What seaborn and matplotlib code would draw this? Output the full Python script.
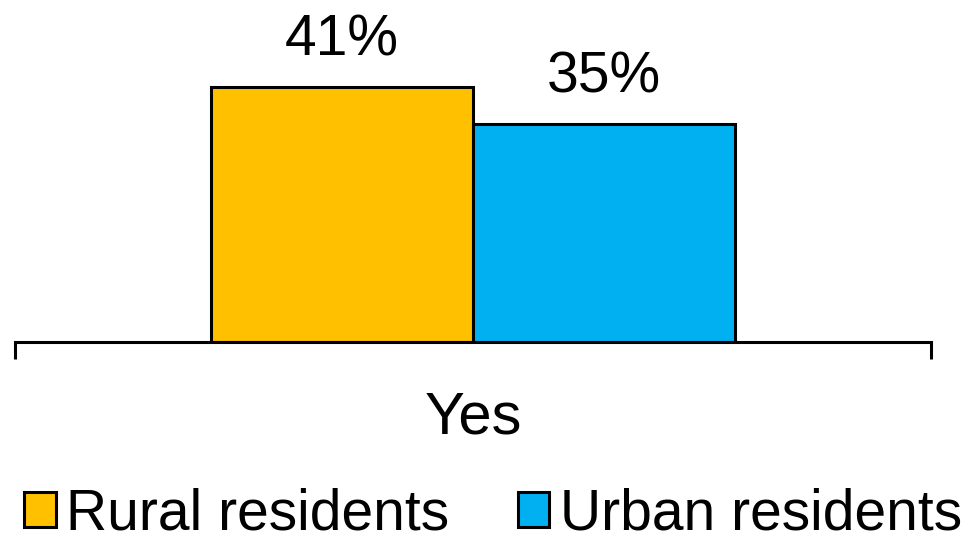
import matplotlib
matplotlib.use("Agg")
import matplotlib.pyplot as plt
import seaborn as sns
import pandas as pd

categories = ["Yes"]
groups = ["Rural residents", "Urban residents"]
values = [41, 35]
colors = ["#FFC000", "#00B0F0"]

df = pd.DataFrame({"answer": categories * len(groups), "group": groups, "share": values})

sns.set_theme(style="white")
plt.rcParams["font.family"] = ["Liberation Sans", "DejaVu Sans"]
plt.rcParams["text.color"] = "black"

fig = plt.figure(figsize=(9.74, 5.44), dpi=100)
ax = fig.add_axes([15 / 974, 1 - 342 / 544, 916 / 974, 342 / 544])

sns.barplot(data=df, x="answer", y="share", hue="group", palette=colors,
            width=0.572, edgecolor="black", linewidth=2.2, saturation=1,
            ax=ax, legend=True)

for c in ax.containers:
    ax.bar_label(c, fmt="{:.0f}%", padding=14, fontsize=41, color="black")

ax.set_ylim(0, 55)
ax.set_xlim(-0.5, 0.5)
ax.set_xlabel("")
ax.set_ylabel("")
ax.set_yticks([])
for s in ["top", "right", "left"]:
    ax.spines[s].set_visible(False)
ax.spines["bottom"].set_linewidth(2.2)
ax.spines["bottom"].set_color("black")
ax.tick_params(axis="x", which="major", length=0, pad=35, labelsize=43, labelcolor="black")
ax.set_xticks([-0.5, 0.5], minor=True)
ax.tick_params(axis="x", which="minor", length=12, width=2.2, color="black", bottom=True)

handles, labels = ax.get_legend_handles_labels()
leg = ax.legend(handles, labels, loc="lower center", bbox_to_anchor=(0.506, 0.004),
                bbox_transform=fig.transFigure, ncol=2, frameon=False, fontsize=41,
                handlelength=0.56, handleheight=0.56, handletextpad=0.18,
                columnspacing=1.2, borderaxespad=0, borderpad=0)
for t in leg.get_texts():
    t.set_color("black")
for h in leg.legend_handles:
    h.set_edgecolor("black")
    h.set_linewidth(2.2)

fig.savefig("out.png", dpi=100)
